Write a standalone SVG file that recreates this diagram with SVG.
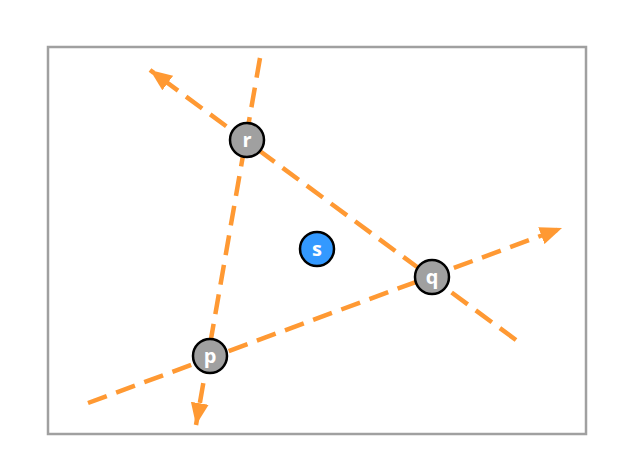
<svg xmlns="http://www.w3.org/2000/svg" width="618" height="466" viewBox="0 0 618 466">
<style>
.edge{stroke:#ff9933;stroke-width:4.5;stroke-dasharray:20 10;fill:none}
.node{stroke:#000;stroke-width:2.5}
.gray{fill:#a0a0a0}
.blue{fill:#3399ff}
.lbl{font-family:"Open Sans","Liberation Sans",sans-serif;font-weight:bold;font-size:20px;fill:#fff;text-anchor:middle;dominant-baseline:central}
</style>
<defs>
<marker id="ah" markerUnits="userSpaceOnUse" markerWidth="24" markerHeight="18" refX="22" refY="9" orient="auto">
<path d="M0,0 L22,9 L0,18 Z" fill="#ff9933"/>
</marker>
</defs>
<rect x="48" y="47" width="538" height="387" fill="#fff" stroke="#a0a0a0" stroke-width="2.5"/>
<g id="connectors">
<line class="edge" x1="516" y1="340" x2="150" y2="70" marker-end="url(#ah)"/>
<line class="edge" x1="88" y1="403" x2="562" y2="228" marker-end="url(#ah)"/>
<line class="edge" x1="260" y1="58" x2="196" y2="425" marker-end="url(#ah)"/>
</g>
<g id="node-r"><circle class="node gray" cx="247" cy="140" r="17"/><text class="lbl" x="247" y="139">r</text></g>
<g id="node-q"><circle class="node gray" cx="432" cy="277" r="17"/><text class="lbl" x="432" y="276">q</text></g>
<g id="node-p"><circle class="node gray" cx="210" cy="356" r="17"/><text class="lbl" x="210" y="355">p</text></g>
<g id="node-s"><circle class="node blue" cx="317" cy="249" r="17"/><text class="lbl" x="317" y="248">s</text></g>
</svg>
